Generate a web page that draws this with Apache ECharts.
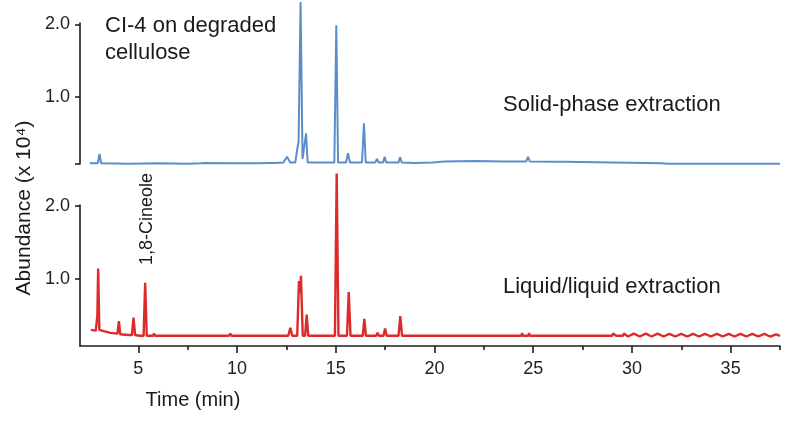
<!DOCTYPE html>
<html>
<head>
<meta charset="utf-8">
<script src="https://cdn.jsdelivr.net/npm/echarts@6/dist/echarts.min.js"></script>
<style>
html,body{margin:0;padding:0;background:#fff;}
#chart{width:794px;height:422px;}
</style>
</head>
<body>
<div id="chart"></div>
<script>
// Time axis ticks (min)
const timeMajorTicks = [5, 10, 15, 20, 25, 30, 35];
const timeMinorTicks = [7.5, 12.5, 17.5, 22.5, 27.5, 32.5, 37.5];
const abundanceTickLabels = [1.0, 2.0];

// Solid-phase extraction trace: [time (min), abundance (x10^4)]
const solidPhase = [
  [2.55,0.09],[2.95,0.09],[3.04,0.22],[3.12,0.09],[4.5,0.085],[6.0,0.09],[7.5,0.085],
  [8.2,0.09],[8.3,0.11],[8.4,0.095],[9.5,0.09],[11.0,0.09],[11.7,0.095],[11.8,0.11],[11.9,0.095],
  [12.35,0.1],[12.53,0.18],[12.7,0.1],[12.95,0.1],[13.06,0.3],[13.12,0.38],[13.22,2.31],[13.32,0.15],
  [13.42,0.15],[13.5,0.5],[13.58,0.1],[14.2,0.1],[14.93,0.1],[15.03,1.99],[15.12,0.1],
  [15.52,0.1],[15.62,0.23],[15.72,0.1],[16.33,0.1],[16.43,0.64],[16.52,0.1],[17.0,0.1],
  [17.09,0.15],[17.18,0.1],[17.4,0.1],[17.48,0.18],[17.56,0.1],[18.18,0.1],[18.26,0.175],
  [18.34,0.1],[19.0,0.095],[19.9,0.1],[20.5,0.115],[22.0,0.12],[23.5,0.115],[24.65,0.115],
  [24.74,0.18],[24.83,0.115],[26.0,0.11],[26.6,0.11],[26.7,0.09],[31.5,0.09],[31.8,0.085],[37.5,0.085]
];

// Liquid/liquid extraction trace: [time (min), abundance (x10^4)]
const liquidLiquid = [
  [2.6,0.3],[2.85,0.29],[2.93,0.5],[2.97,1.14],[3.03,0.3],[3.3,0.28],[3.6,0.26],[3.95,0.25],
  [4.02,0.42],[4.09,0.24],[4.5,0.23],[4.68,0.23],[4.76,0.47],[4.84,0.23],[5.05,0.22],
  [5.27,0.22],[5.35,0.945],[5.43,0.22],[5.75,0.22],[5.8,0.25],[5.85,0.22],[9.6,0.22],
  [9.66,0.25],[9.72,0.22],[12.6,0.22],[12.7,0.33],[12.8,0.22],[13.05,0.22],[13.14,0.97],
  [13.19,0.8],[13.24,1.04],[13.33,0.22],[13.45,0.22],[13.53,0.51],[13.61,0.22],[14.96,0.22],
  [15.05,2.44],[15.14,0.22],[15.57,0.22],[15.66,0.82],[15.75,0.22],[16.37,0.22],[16.45,0.45],
  [16.53,0.22],[17.05,0.22],[17.12,0.26],[17.19,0.22],[17.42,0.22],[17.5,0.32],[17.58,0.22],
  [18.18,0.22],[18.27,0.49],[18.36,0.22],[24.4,0.22],[24.44,0.255],[24.48,0.22],[24.75,0.22],
  [24.79,0.255],[24.83,0.22],[29.0,0.22],[29.05,0.25],[29.2,0.22],[29.55,0.22],[29.6,0.25],
  [29.8,0.21],[30.1,0.25],[30.4,0.21],[30.7,0.25],[31.0,0.21],[31.3,0.25],[31.6,0.21],
  [31.9,0.245],[32.2,0.21],[32.5,0.245],[32.8,0.21],[33.1,0.245],[33.4,0.21],[33.7,0.245],
  [34.0,0.21],[34.3,0.245],[34.6,0.21],[34.9,0.245],[35.2,0.21],[35.5,0.245],[35.8,0.21],
  [36.1,0.245],[36.4,0.21],[36.7,0.245],[37.0,0.21],[37.3,0.24],[37.5,0.22]
];

const FONT = 'Liberation Sans, Arial, sans-serif';
const AX = '#1e1e1e';
const xMin = 2.05, xMax = 37.5;

const chart = echarts.init(document.getElementById('chart'), null, {renderer:'canvas'});

function yAxisDef(gridIndex, tickVals) {
  return {
    gridIndex, type:'value', min:0.08, max: gridIndex === 0 ? 2.02 : 2.01,
    axisLine:{show:true, lineStyle:{color:AX, width:1.6}},
    axisTick:{show:true, length:5, customValues: tickVals, lineStyle:{color:AX, width:1.6}},
    axisLabel:{show:true, customValues: abundanceTickLabels, margin:10, color:'#222',
      fontSize:18, fontFamily:FONT, formatter:(v)=>v.toFixed(1)},
    splitLine:{show:false}
  };
}

chart.setOption({
  animation:false,
  backgroundColor:'#fff',
  grid:[
    {left:80, right:14, top:23, height:141},
    {left:80, right:14, top:205, height:141}
  ],
  xAxis:[
    {gridIndex:0, type:'value', min:xMin, max:xMax, show:false},
    {gridIndex:1, type:'value', min:xMin, max:xMax, position:'bottom',
      axisLine:{show:true, onZero:false, lineStyle:{color:AX, width:1.6}},
      axisTick:{show:true, length:7, customValues: timeMajorTicks, lineStyle:{color:AX, width:1.6}},
      axisLabel:{show:true, customValues: timeMajorTicks, margin:14, color:'#222', fontSize:18, fontFamily:FONT},
      splitLine:{show:false}},
    {gridIndex:1, type:'value', min:xMin, max:xMax, position:'bottom', offset:0,
      axisLine:{show:false, onZero:false},
      axisTick:{show:true, length:4, customValues: timeMinorTicks, lineStyle:{color:AX, width:1.6}},
      axisLabel:{show:false}, splitLine:{show:false}}
  ],
  yAxis:[
    yAxisDef(0, [0.08, 1.0, 2.0]),
    yAxisDef(1, [1.0, 2.0])
  ],
  series:[
    {type:'line', xAxisIndex:0, yAxisIndex:0, data:solidPhase, showSymbol:false, clip:false,
      lineStyle:{color:'#5b8ec9', width:2}, itemStyle:{color:'#5b8ec9'}},
    {type:'line', xAxisIndex:1, yAxisIndex:1, data:liquidLiquid, showSymbol:false, clip:false,
      lineStyle:{color:'#dc2b2b', width:2.4}, itemStyle:{color:'#dc2b2b'}}
  ],
  graphic:[
    {type:'text', left:105, top:12, style:{text:'CI-4 on degraded\ncellulose', font:'22px '+FONT, fill:'#1a1a1a', lineHeight:27}},
    {type:'text', x:503, y:105, style:{text:'Solid-phase extraction', font:'22px '+FONT, fill:'#1a1a1a', verticalAlign:'middle'}},
    {type:'text', x:503, y:287, style:{text:'Liquid/liquid extraction', font:'22px '+FONT, fill:'#1a1a1a', verticalAlign:'middle'}},
    {type:'text', x:147, y:219, rotation:Math.PI/2, style:{text:'1,8-Cineole', font:'18px '+FONT, fill:'#1a1a1a', align:'center', verticalAlign:'middle'}},
    {type:'text', x:24, y:208, rotation:Math.PI/2, style:{text:'Abundance (x 10⁴)', font:'21px '+FONT, fill:'#1a1a1a', align:'center', verticalAlign:'middle'}},
    {type:'text', x:193, y:400, style:{text:'Time (min)', font:'20px '+FONT, fill:'#1a1a1a', align:'center', verticalAlign:'middle'}}
  ]
});
</script>
</body>
</html>
